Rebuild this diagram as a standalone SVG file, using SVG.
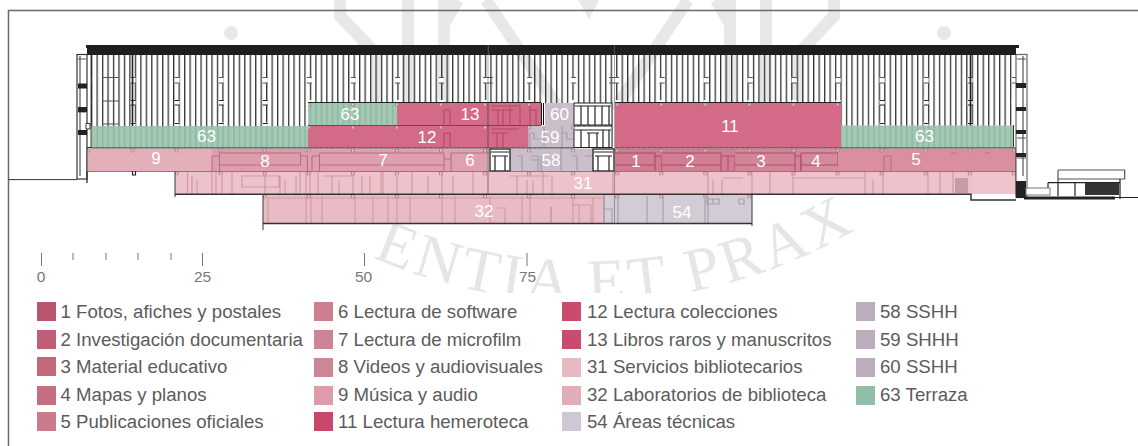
<svg xmlns="http://www.w3.org/2000/svg" width="1138" height="446" viewBox="0 0 1138 446">
<style>
text{font-family:"Liberation Sans",Arial,sans-serif}
.num{fill:#fff;font-size:17px;text-anchor:middle}
.leg{fill:#5c5c5c;font-size:18.65px}
.sc{fill:#777;font-size:15.5px;text-anchor:middle}
.wm{fill:none;stroke:#e8e8e8;stroke-width:12}
.ink{fill:none;stroke:#222;stroke-width:1.2}
.gr{fill:none;stroke:#555;stroke-width:1.2}
.dk{fill:none;stroke:#333;stroke-width:1.5}
.d-p{fill:none;stroke:#b8707f;stroke-width:1.1}
.d-l{fill:none;stroke:#d29aa6;stroke-width:1.2}
.d-g{fill:none;stroke:#a89fab;stroke-width:1.2}
.d-r{fill:none;stroke:#b04a68;stroke-width:1.1}
.bar{fill:#222}
</style>
<defs>
<pattern id="mul" patternUnits="userSpaceOnUse" x="91" y="0" width="5.47" height="10"><rect width="1.3" height="10" fill="#333"/></pattern>
<pattern id="mulg" patternUnits="userSpaceOnUse" x="91" y="0" width="5.47" height="10"><rect width="1.5" height="10" fill="#7fa892" fill-opacity=".55"/></pattern>
<pattern id="cross" patternUnits="userSpaceOnUse" x="130" y="0" width="44.07" height="10"><rect x=".5" y="0" width="5" height="10" fill="#fff"/></pattern>
<pattern id="pil" patternUnits="userSpaceOnUse" x="130.5" y="102.5" width="44.07" height="23"><rect x=".5" y=".5" width="3" height="3" fill="#f2d5da" fill-opacity=".75" stroke="#a8707e" stroke-width=".8"/></pattern>
<g id="wmhalf">
<path class="wm" d="M340 0V16L376 54V110"/>
<path class="wm" d="M408 0V110M444 0V110M444 24L458 0"/>
<path class="wm" d="M486 0L560 110"/>
</g>
</defs>
<rect width="1138" height="446" fill="#fff"/>

<g id="watermark">
<circle cx="231" cy="33" r="7" fill="#e8e8e8"/>
<circle cx="944" cy="33" r="7" fill="#e8e8e8"/>
<use href="#wmhalf"/>
<use href="#wmhalf" transform="matrix(-1 0 0 1 1174 0)"/>
<path d="M578 0H599L589 19Z" fill="#e8e8e8"/>
<path id="wmarc" d="M88 -40A535 535 0 0 0 1086 -40" fill="none"/>
<text font-size="62" fill="#e6e6e6" letter-spacing="4" style="font-family:'Liberation Serif',serif"><textPath href="#wmarc" startOffset="52.5%" text-anchor="middle">ENTIA ET PRAX</textPath></text>
<rect x="9" y="293" width="1129" height="153" fill="#fff"/>
</g>

<g id="frame"><path d="M8.500 446V10.500H1138" fill="none" stroke="#6a6a6a" stroke-width="1.5"/></g>

<g id="facade">
<rect x="91" y="55" width="922" height="93" fill="url(#mul)"/>
<rect x="91" y="77.500" width="922" height="5.500" fill="url(#cross)"/>
<rect x="91" y="100" width="922" height="5" fill="url(#cross)"/>
<rect x="91" y="122.500" width="922" height="4" fill="url(#cross)"/>
<path class="gr" d="M130.500 77.500h5M130.500 83h5M174.600 77.500h5M174.600 83h5M218.700 77.500h5M218.700 83h5M262.700 77.500h5M262.700 83h5M306.800 77.500h5M306.800 83h5M350.900 77.500h5M350.900 83h5M395 77.500h5M395 83h5M439 77.500h5M439 83h5M483 77.500h10M483 83h10M527.200 77.500h5M527.200 83h5M571.300 77.500h5M571.300 83h5M609 77.500h10M609 83h10M659.600 77.500h5M659.600 83h5M703.700 77.500h5M703.700 83h5M747.800 77.500h5M747.800 83h5M791.800 77.500h5M791.800 83h5M835.900 77.500h5M835.900 83h5M880 77.500h5M880 83h5M924 77.500h5M924 83h5M968 77.500h5M968 83h5M1012 77.500h4M1012 83h4"/>
<path class="ink" d="M130.500 100.500h5M130.500 105h5M174.600 100.500h5M174.600 105h5M218.700 100.500h5M218.700 105h5M262.700 100.500h5M262.700 105h5M880 100.500h5M880 105h5M924 100.500h5M924 105h5M968 100.500h5M968 105h5M130.500 123.500h5M174.600 123.500h5M218.700 123.500h5M262.700 123.500h5M880 123.500h5M924 123.500h5M968 123.500h5"/>
<path class="gr" d="M102 77.500h17M102 101h17M102 124h17"/>
<path d="M132.500 55v92M970.500 55v92" stroke="#222" stroke-width="1.6" fill="none"/>
<rect x="87" y="45" width="929" height="10" fill="#1e1e1e"/>
<path d="M86 45h3v3h-3zM1016 45h3v3h-3z" fill="#1e1e1e"/>
<path d="M488.500 45v10M614.500 45v10" stroke="#555" stroke-width=".8"/>
</g>

<g id="tower-left">
<rect x="77" y="54.500" width="10" height="124.500" fill="#fff" stroke="#333" stroke-width="1.2"/>
<path class="gr" d="M78 59h8M78 87h8M78 112h8M78 133h8M80 56v120"/>
<rect x="78" y="83.500" width="9" height="5" class="bar"/>
<rect x="78" y="107" width="9" height="5" class="bar"/>
<rect x="78" y="130" width="9" height="5" class="bar"/>
<path d="M86 123.500h4v5.500h-4z" fill="#fff" stroke="#333"/>
<path d="M91.200 55V147.500H87M87 171V183" class="ink"/>
</g>

<g id="rooms-terrace">
<g id="room-63a"><rect x="308" y="103" width="89" height="22" fill="#a3c9b4"/><rect x="308" y="103" width="89" height="22" fill="url(#mulg)"/><text class="num" x="350" y="120">63</text></g>
<g id="room-63b"><rect x="91.500" y="126" width="216.500" height="21.500" fill="#a3c9b4"/><rect x="91.500" y="126" width="216.500" height="21.500" fill="url(#mulg)"/><text class="num" x="206.500" y="142">63</text></g>
<g id="room-63c"><rect x="841" y="125.500" width="172" height="22" fill="#a3c9b4"/><rect x="841" y="125.500" width="172" height="22" fill="url(#mulg)"/><text class="num" x="924.500" y="141.500">63</text></g>
</g>

<g id="rooms-upper">
<g id="room-13"><rect x="397" y="103" width="144" height="22" fill="#d36a87"/>
<path class="d-r" d="M444 110h6v15M444 110v15M488 103v22M491 106h29M492 110h22M498 110v15M503 110v15M510 106v19M520 106v19M530 103v22M530 110h6v15"/>
<text class="num" x="470" y="120">13</text></g>
<g id="room-12"><rect x="308" y="126" width="220.500" height="21.500" fill="#d36a87"/>
<path class="d-r" d="M444 133h6v14M444 133v14M488 126v21M491 129h28M492 133h16M497 133v14M503 133v14"/>
<text class="num" x="427" y="142.500">12</text></g>
<g id="room-11"><rect x="615" y="103" width="226" height="44.500" fill="#d36a87"/>
<text class="num" x="730" y="131.500">11</text></g>
<g id="room-60"><rect x="545" y="103" width="29" height="23" fill="#c9bec9"/><text class="num" x="559.500" y="120">60</text></g>
<g id="room-59"><rect x="528.500" y="126" width="45.500" height="21.500" fill="#c9bec9"/>
<path class="d-g" d="M530 133v14M530 133h4v6h6M544 126v21M562 126v21M562 133h5v6h7"/>
<text class="num" x="550" y="142.500">59</text></g>
<g id="stair-a" fill="#fff"><rect x="574" y="103" width="38" height="22" stroke="#222"/>
<path class="ink" d="M575 106h36M581 106v19M588 106v19M595 106v19M602 106v19M609 106v19"/><rect x="574" y="126" width="38" height="21.500" stroke="#222"/>
<path class="ink" d="M575 130h36M587 133h12M589 133v14M597 133v14M581 130v17M603 130v17M609 130v17"/></g>
</g>

<g id="rooms-mid">
<g id="room-9"><rect x="87" y="148.500" width="125" height="22.500" fill="#e3afb9"/><text class="num" x="156" y="164">9</text></g>
<g id="room-8"><rect x="212" y="148.500" width="96" height="22.500" fill="#dc9dac"/>
<path class="d-p" d="M219.500 153h81v12h-81zM219.500 153v18M212 156h7M212 156v15M300.500 156h7v15M219.500 165h81"/>
<text class="num" x="265" y="166.500">8</text></g>
<g id="room-7"><rect x="308" y="148.500" width="136" height="22.500" fill="#de9fae"/>
<path class="d-p" d="M312 156v15M319.500 153v18M319.500 153H444M319.500 165H444M312 156h7"/>
<text class="num" x="383" y="166">7</text></g>
<g id="room-6"><rect x="444" y="148.500" width="45" height="22.500" fill="#dea1af"/>
<path class="d-p" d="M444 153v18M451 153v18M444 159h7M451 153h38"/>
<text class="num" x="470" y="166">6</text></g>
<g id="room-58"><rect x="510" y="148.500" width="83" height="22.500" fill="#c9bec9"/>
<path class="d-g" d="M517 156h5v15M531 156h7v15M541 156v15M561 148v23M572 156h5v15M585 156h8M531 160h8"/>
<text class="num" x="551" y="166">58</text></g>
<g id="stair-b"><rect x="490" y="149" width="20" height="22" fill="#fff" stroke="#222" stroke-width="1.3"/><path class="ink" d="M491 152h18M492 156h16M495 156v15M505 156v15"/>
<rect x="593" y="149" width="21" height="22" fill="#fff" stroke="#222" stroke-width="1.3"/><path class="ink" d="M594 152h19M595 156h17M598 156v15M609 156v15"/></g>
<g id="room-1"><rect x="615" y="148.500" width="47" height="22.500" fill="#cf7c90"/>
<path class="d-r" d="M615 153h40v12h-40M655 156h7v15M655 156v15"/>
<text class="num" x="636" y="166.500">1</text></g>
<g id="room-2"><rect x="662" y="148.500" width="73" height="22.500" fill="#d07f93"/>
<path class="d-r" d="M662 153h59v12h-59M721 156h7v15M728 156h7v15M721 156v15"/>
<text class="num" x="690" y="166.500">2</text></g>
<g id="room-3"><rect x="735" y="148.500" width="66" height="22.500" fill="#d28597"/>
<path class="d-r" d="M735 153h60v12h-60M795 156h6v15M795 156v15"/>
<text class="num" x="761" y="166.500">3</text></g>
<g id="room-4"><rect x="801" y="148.500" width="37" height="22.500" fill="#d48a9b"/>
<path class="d-r" d="M801 153h37v12h-37M801 153v18"/>
<text class="num" x="816" y="166.500">4</text></g>
<g id="room-5"><rect x="838" y="148.500" width="178" height="22.500" fill="#d98f9f"/>
<path class="d-p" d="M884 156h7v15M884 156v15M951 153h5M985 153h5"/>
<text class="num" x="916" y="164.500">5</text></g>
</g>

<g id="rooms-low">
<g id="room-31"><rect x="175" y="172" width="841" height="22" fill="#eec2cb"/><rect x="973" y="172" width="43" height="22" fill="#f0c4cc"/>
<path class="d-l" d="M187.500 172v22M192 176v18M197 180v14M212 172v22M216 172v22M222 176v18M232 172v22M242 176h37v11h-37zM265 172v22M280 176v18M285 180v14M296 176v18M300 172v22M306 172v22M310 172v22M318 172v22M323 176h30M332 176v18M339 180v14M353 172v22M362 176v18M370 176v18M381 172v22M383 172v22M397 176v18M412 172v22M428 176v18M442 172v22M453 176v18M473 172v22M488 172v22M510 176h40M517 176v18M527 180v14M533 180v14M543 172v22M552 176v18M613 172v22M708 172v22M713 180v14M722 180v14M752 172v22M770 172v22M793 172v22M865 172v22M873 180v14M883 172v22M928 172v22M940 172v22M953 172v22M723 178h20M793 178h72"/>
<rect x="955" y="178" width="13" height="15" fill="#c89ca7"/>
<text class="num" x="583" y="189">31</text></g>
<g id="room-32"><rect x="263" y="195" width="341" height="28" fill="#e9bcc5"/>
<path class="d-l" d="M268 198h335M268 198v25M306 196v27M311 196v27M322 196v27M355 196v27M373 196v27M388 196v27M397 196v27M410 196v27M442 196v27M455 196v27M490 196v27M522 196v27M530 196v27M573 196v27M593 198v25M497 208h8v15M573 205h18v18M579 205v18"/>
<path d="M551 207v16" stroke="#b87f8d" fill="none"/>
<text class="num" x="484" y="217">32</text></g>
<g id="room-54"><rect x="604" y="195" width="148" height="28" fill="#d3ccd6"/>
<path class="d-g" d="M618 196v27M604 209h8v14M612 209v14M647 196v27M663 196v27M705 196v27M708 196v27M707 199h12v5h-12zM713 199v5M739 199h5v5h-5z"/>
<text class="num" x="682" y="217.500">54</text></g>
</g>

<g id="pillars">
<rect x="308" y="102.500" width="233" height="4" fill="url(#pil)"/>
<rect x="615" y="102.500" width="226" height="4" fill="url(#pil)"/>
<rect x="308" y="125.500" width="266" height="4" fill="url(#pil)"/>
<rect x="87" y="148.500" width="929" height="4" fill="url(#pil)"/>
<rect x="175" y="171.500" width="841" height="4" fill="url(#pil)"/>
<rect x="263" y="194.500" width="489" height="4" fill="url(#pil)"/>
</g>

<g id="structure-lines">
<path class="ink" d="M308 102.500H541M615 102.500H841"/>
<path d="M541.500 103V125M543.500 103V125" stroke="#111" fill="none"/>
<path class="gr" d="M308 125.500H541M308 147.800H574M615 147.800H841M841 147.800H1016M91 147.800H308"/>
<path class="gr" d="M87 171.500H175M175 171.500H1016" stroke-opacity=".75"/>
<path class="gr" d="M87 148V171M175 171V197M1016 148V195"/>
<path class="dk" d="M175 194.300H971V200H1016"/>
<path d="M263 194V230M752 195V226" stroke="#555" stroke-width="1.2" fill="none"/>
<path d="M263 223.500H752" stroke="#333" stroke-width="1.600" fill="none"/>
<path d="M604 195V223" stroke="#8c7d87" fill="none"/>
<path d="M488 45V194M614.500 55V224" stroke="#555" stroke-opacity=".5" stroke-width="1" fill="none"/>
<path d="M132.500 171v4h3v-4" class="ink"/>
<path d="M8.500 179.600H77" stroke="#333" stroke-width="1" fill="none"/>
<path d="M1013.500 125V147" stroke="#333" fill="none"/>
</g>

<g id="tower-right">
<rect x="1016" y="54.500" width="11" height="143" fill="#fff" stroke="#666" stroke-width="1.2"/>
<path class="gr" d="M1017 59h9M1017 110h9M1017 138h9M1017 158h9M1023 56v120"/>
<rect x="1016" y="83" width="10" height="5" class="bar"/><rect x="1016" y="107" width="10" height="4" class="bar"/><rect x="1016" y="130" width="10" height="4" class="bar"/><rect x="1016" y="153" width="10" height="4" class="bar"/>
<rect x="1016" y="181" width="10" height="17" class="bar"/>
</g>

<g id="building-right">
<path class="gr" d="M1058 170H1124.700V179H1058V170M1058 179V182.700"/>
<path class="ink" d="M1048 182.700H1120V195M1048 182.700V195M1058 182.700V196M1075 182.700V196M1120 179V199M1115 197.500H1138"/>
<rect x="1026" y="188" width="24" height="7" fill="#fff" stroke="#777"/>
<rect x="1085" y="183" width="34" height="12" fill="#333"/>
<rect x="1024" y="196.500" width="91" height="3" fill="#222"/>
</g>

<g id="scale">
<path d="M41.500 253V266M202.500 253V266M364.500 253V266M527 253V266M73 253V260M106 253V260M138 253V260M171 253V260" stroke="#777" stroke-width="1" fill="none"/>
<text class="sc" x="41" y="281.500">0</text><text class="sc" x="202.500" y="281.500">25</text><text class="sc" x="363.500" y="281.500">50</text><text class="sc" x="527.500" y="281.500">75</text>
</g>

<g id="legend">
<rect x="37" y="302" width="19" height="19" fill="#b85670"/><text class="leg" x="60.500" y="317.500">1 Fotos, afiches y postales</text>
<rect x="37" y="330" width="19" height="19" fill="#bf5f75"/><text class="leg" x="60.500" y="345.500">2 Investigación documentaria</text>
<rect x="37" y="357" width="19" height="19" fill="#c3677c"/><text class="leg" x="60.500" y="373">3 Material educativo</text>
<rect x="37" y="386" width="19" height="19" fill="#c56d81"/><text class="leg" x="60.500" y="401">4 Mapas y planos</text>
<rect x="37" y="412" width="19" height="19" fill="#cb7a8c"/><text class="leg" x="60.500" y="428">5 Publicaciones oficiales</text>
<rect x="314" y="302" width="19" height="19" fill="#cd7f90"/><text class="leg" x="338" y="317.500">6 Lectura de software</text>
<rect x="314" y="330" width="19" height="19" fill="#cd8595"/><text class="leg" x="338" y="345.500">7 Lectura de microfilm</text>
<rect x="314" y="358" width="19" height="19" fill="#cd8696"/><text class="leg" x="338" y="373">8 Videos y audiovisuales</text>
<rect x="314" y="386" width="19" height="19" fill="#dc9caa"/><text class="leg" x="338" y="401">9 Música y audio</text>
<rect x="314" y="412" width="19" height="19" fill="#c7486b"/><text class="leg" x="338" y="428">11 Lectura hemeroteca</text>
<rect x="562" y="302" width="19" height="19" fill="#c94b6d"/><text class="leg" x="587" y="317.500">12 Lectura colecciones</text>
<rect x="562" y="330" width="19" height="19" fill="#c94b6d"/><text class="leg" x="587" y="345.500">13 Libros raros y manuscritos</text>
<rect x="562" y="358" width="19" height="19" fill="#e8b9c2"/><text class="leg" x="587" y="373">31 Servicios bibliotecarios</text>
<rect x="562" y="386" width="19" height="19" fill="#e1aeb8"/><text class="leg" x="587" y="401">32 Laboratorios de biblioteca</text>
<rect x="562" y="412" width="19" height="19" fill="#cfc7d3"/><text class="leg" x="587" y="428">54 Áreas técnicas</text>
<rect x="856" y="302" width="19" height="19" fill="#bcadbc"/><text class="leg" x="880" y="317.500">58 SSHH</text>
<rect x="856" y="330" width="19" height="19" fill="#bcadbc"/><text class="leg" x="880" y="345.500">59 SHHH</text>
<rect x="856" y="358" width="19" height="19" fill="#bcadbc"/><text class="leg" x="880" y="373">60 SSHH</text>
<rect x="856" y="386" width="19" height="19" fill="#90bea8"/><text class="leg" x="880" y="401">63 Terraza</text>
</g>
</svg>
